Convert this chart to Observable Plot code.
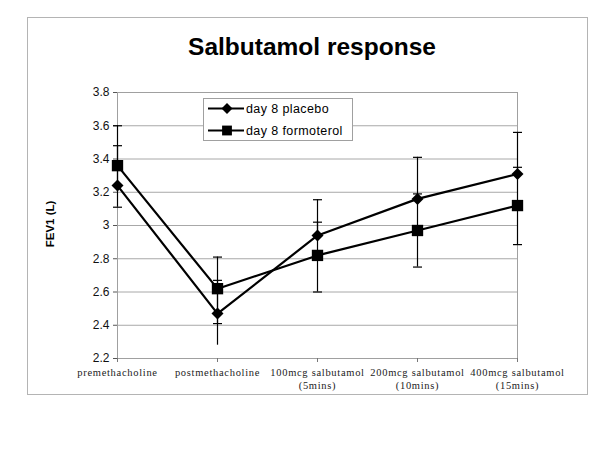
<!DOCTYPE html>
<html>
<head>
<meta charset="utf-8">
<script src="https://cdn.jsdelivr.net/npm/d3@7"></script>
<script src="https://cdn.jsdelivr.net/npm/@observablehq/plot@0.6"></script>
<style>
  html, body { margin: 0; padding: 0; background: #fff; }
  #chart { width: 600px; height: 450px; position: relative; }
</style>
</head>
<body>
<div id="chart"></div>
<script>
// ---- data ----
const categories = [
  "premethacholine",
  "postmethacholine",
  "100mcg salbutamol (5mins)",
  "200mcg salbutamol (10mins)",
  "400mcg salbutamol (15mins)"
];
const tickLabels = [
  "premethacholine",
  "postmethacholine",
  "100mcg salbutamol\n(5mins)",
  "200mcg salbutamol\n(10mins)",
  "400mcg salbutamol\n(15mins)"
];
const seriesNames = ["day 8 placebo", "day 8 formoterol"];
const placebo      = [3.24, 2.47, 2.94, 3.16, 3.31];
const placeboHigh  = [3.48, 2.67, 3.155, 3.41, 3.56];
const placeboLow   = [null, 2.28, null, null, null];
const formoterol     = [3.36, 2.62, 2.82, 2.97, 3.12];
const formoterolHigh = [3.60, 2.81, 3.02, 3.19, 3.35];
const formoterolLow  = [3.11, 2.41, 2.60, 2.75, 2.885];
const yTicks = [2.2, 2.4, 2.6, 2.8, 3, 3.2, 3.4, 3.6, 3.8];
const titleText = "Salbutamol response";
const yLabel = "FEV1 (L)";

// ---- table built from arrays ----
const rows = categories.map((c, i) => ({
  cat: c,
  p: placebo[i], pHigh: placeboHigh[i], pLow: placeboLow[i],
  f: formoterol[i], fHigh: formoterolHigh[i], fLow: formoterolLow[i]
}));
const labelOf = new Map(categories.map((c, i) => [c, tickLabels[i]]));

const sans = "'Liberation Sans', Arial, sans-serif";
const serif = "'Liberation Serif', 'Times New Roman', serif";

const capSymbol = {
  draw(ctx) { const w = 4.5; ctx.moveTo(-w, 0); ctx.lineTo(w, 0); }
};

const chart = Plot.plot({
  width: 600,
  height: 450,
  marginLeft: 117,
  marginRight: 83,
  marginTop: 92,
  marginBottom: 92,
  style: { background: "white", fontFamily: sans, color: "black" },
  x: { type: "point", domain: categories, padding: 0 },
  y: { domain: [2.2, 3.8] },
  marks: [
    Plot.gridY(yTicks, { stroke: "#a8a8a8", strokeOpacity: 1, strokeWidth: 1 }),
    Plot.frame({ stroke: "#a0a0a0", strokeWidth: 1 }),
    Plot.axisY(yTicks, {
      tickSize: 4, tickPadding: 4, stroke: "#555", fill: "#111",
      fontSize: 12, fontFamily: sans,
      tickFormat: d => String(d), label: null
    }),
    Plot.axisX({
      tickSize: 4, tickPadding: 5, stroke: "#777", fill: "#222",
      fontSize: 10.5, fontFamily: serif, lineHeight: 1.2,
      tickFormat: d => labelOf.get(d), label: null
    }),
    // error bars
    Plot.ruleX(rows, { x: "cat", y1: "fLow", y2: "fHigh", stroke: "black", strokeWidth: 1.2 }),
    Plot.ruleX(rows, { x: "cat", y1: "p", y2: "pHigh", stroke: "black", strokeWidth: 1.2 }),
    Plot.ruleX(rows.filter(d => d.pLow != null), { x: "cat", y1: "pLow", y2: "p", stroke: "black", strokeWidth: 1.2 }),
    Plot.dot(rows, { x: "cat", y: "fHigh", symbol: capSymbol, r: 2, stroke: "black", fill: "none", strokeWidth: 1.2 }),
    Plot.dot(rows, { x: "cat", y: "fLow", symbol: capSymbol, r: 2, stroke: "black", fill: "none", strokeWidth: 1.2 }),
    Plot.dot(rows, { x: "cat", y: "pHigh", symbol: capSymbol, r: 2, stroke: "black", fill: "none", strokeWidth: 1.2 }),
    // series lines
    Plot.line(rows, { x: "cat", y: "p", stroke: "black", strokeWidth: 2.2 }),
    Plot.line(rows, { x: "cat", y: "f", stroke: "black", strokeWidth: 2.2 }),
    // markers
    Plot.dot(rows, { x: "cat", y: "p", symbol: "diamond2", r: 5.4, fill: "black", stroke: "none" }),
    Plot.dot(rows, { x: "cat", y: "f", symbol: "square", r: 6.4, fill: "black", stroke: "none" })
  ]
});

document.getElementById("chart").appendChild(chart);

const svg = d3.select(chart);
// spread the serif category labels like the reference
svg.selectAll('g[aria-label="x-axis tick label"] text').attr("letter-spacing", 0.7);

// ---- decorations: outer frame, title, y label, legend ----
svg.insert("rect", ":first-child")
  .attr("x", 27.5).attr("y", 17.5).attr("width", 560).attr("height", 377)
  .attr("fill", "white").attr("stroke", "#b4b4b4").attr("stroke-width", 1);

svg.append("text")
  .attr("x", 312).attr("y", 55)
  .attr("text-anchor", "middle")
  .attr("font-family", sans).attr("font-weight", "bold").attr("font-size", 24.5)
  .attr("fill", "black")
  .text(titleText);

svg.append("text")
  .attr("transform", "translate(54,224) rotate(-90)")
  .attr("text-anchor", "middle")
  .attr("font-family", sans).attr("font-weight", "bold").attr("font-size", 11.5)
  .attr("fill", "black")
  .text(yLabel);

const lg = svg.append("g");
lg.append("rect")
  .attr("x", 203.5).attr("y", 98.5).attr("width", 149).attr("height", 42)
  .attr("fill", "white").attr("stroke", "#a0a0a0");
const symbols = [d3.symbolDiamond2, d3.symbolSquare];
const sizes = [Math.PI * 5.4 * 5.4 * 0.85, Math.PI * 6.4 * 6.4 * 0.75];
seriesNames.forEach((name, i) => {
  const cy = 108.5 + i * 22;
  lg.append("line").attr("x1", 208).attr("x2", 244).attr("y1", cy).attr("y2", cy)
    .attr("stroke", "black").attr("stroke-width", 2.2);
  lg.append("path").attr("d", d3.symbol(symbols[i], sizes[i])())
    .attr("transform", `translate(227,${cy})`).attr("fill", "black");
  lg.append("text").attr("x", 246).attr("y", cy).attr("dy", "0.35em")
    .attr("text-anchor", "start")
    .attr("font-family", sans).attr("font-size", 12.5).attr("letter-spacing", 0.4)
    .attr("fill", "black").text(name);
});
</script>
</body>
</html>
